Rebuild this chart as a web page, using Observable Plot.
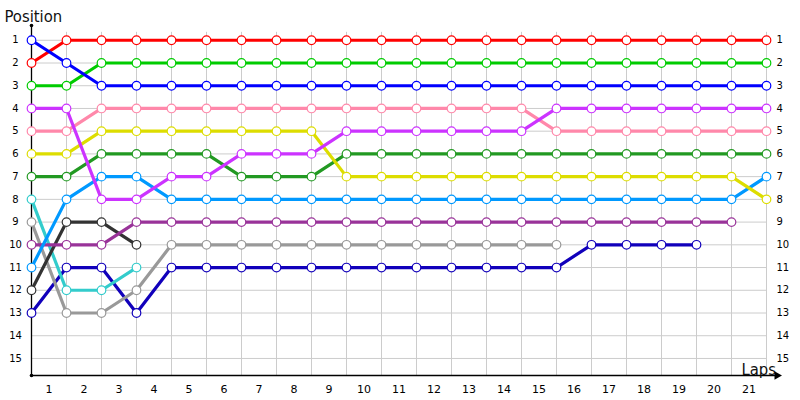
<!DOCTYPE html>
<html><head><meta charset="utf-8">
<script src="https://cdn.jsdelivr.net/npm/d3@7"></script>
<script src="https://cdn.jsdelivr.net/npm/@observablehq/plot@0.6"></script>
<style>body{margin:0;background:#fff} #chart{width:800px;height:400px}</style>
</head><body><div id="chart"></div>
<script>
const laps = [0,1,2,3,4,5,6,7,8,9,10,11,12,13,14,15,16,17,18,19,20,21];
const yTicks = [1,2,3,4,5,6,7,8,9,10,11,12,13,14,15];
const xTickLabels = ["1","2","3","4","5","6","7","8","9","10","11","12","13","14","15","16","17","18","19","20","21"];

const names = ["navy","lightgray","cyan","darkgray","purple","lightblue","darkgreen","yellow","pink","magenta","green","red","blue"];
const colors = ["#1100bb","#999999","#33cccc","#333333","#993399","#0099ff","#229922","#dddd00","#ff88aa","#cc33ff","#00cc00","#ff0000","#0000ff"];

const red       = [2,1,1,1,1,1,1,1,1,1,1,1,1,1,1,1,1,1,1,1,1,1];
const blue      = [1,2,3,3,3,3,3,3,3,3,3,3,3,3,3,3,3,3,3,3,3,3];
const green     = [3,3,2,2,2,2,2,2,2,2,2,2,2,2,2,2,2,2,2,2,2,2];
const magenta   = [4,4,8,8,7,7,6,6,6,5,5,5,5,5,5,4,4,4,4,4,4,4];
const pink      = [5,5,4,4,4,4,4,4,4,4,4,4,4,4,4,5,5,5,5,5,5,5];
const yellow    = [6,6,5,5,5,5,5,5,5,7,7,7,7,7,7,7,7,7,7,7,7,8];
const darkgreen = [7,7,6,6,6,6,7,7,7,6,6,6,6,6,6,6,6,6,6,6,6,6];
const lightblue = [11,8,7,7,8,8,8,8,8,8,8,8,8,8,8,8,8,8,8,8,8,7];
const purple    = [10,10,10,9,9,9,9,9,9,9,9,9,9,9,9,9,9,9,9,9,9];
const darkgray  = [12,9,9,10];
const cyan      = [8,12,12,11];
const lightgray = [9,13,13,12,10,10,10,10,10,10,10,10,10,10,10,10];
const navy      = [13,11,11,13,11,11,11,11,11,11,11,11,11,11,11,11,10,10,10,10];

const seriesValues = [navy,lightgray,cyan,darkgray,purple,lightblue,darkgreen,yellow,pink,magenta,green,red,blue];

const rows = [];
seriesValues.forEach((vals, s) => vals.forEach((v, i) => rows.push({name: names[s], color: colors[s], lap: laps[i], pos: v})));

const font = "DejaVu Sans, Verdana, sans-serif";
const titleFont = "'Liberation Sans Narrow', 'DejaVu Sans Condensed', Roboto, sans-serif";
const yTop = 0.35, yBottom = 15.75;

const chart = Plot.plot({
  width: 800, height: 400,
  marginLeft: 31, marginRight: 34, marginTop: 25, marginBottom: 25,
  style: {fontFamily: font, background: "#fff", overflow: "visible"},
  x: {domain: [0, 21], axis: null},
  y: {domain: [yTop, yBottom], reverse: true, axis: null},
  color: {type: "identity"},
  marks: [
    Plot.ruleX(laps, {x: d => d, y1: 0.65, y2: yBottom, stroke: "#cccccc", strokeWidth: 1}),
    Plot.ruleY(yTicks, {y: d => d, x1: 0, x2: 21, stroke: "#cccccc", strokeWidth: 1}),
    Plot.ruleX([0], {y1: yTop, y2: yBottom, stroke: "#000", strokeWidth: 1.3}),
    Plot.ruleY([yBottom], {x1: 0, x2: 21.3, stroke: "#000", strokeWidth: 1.3}),
    Plot.dot([21.3], {x: d => d, y: yBottom, symbol: "triangle", r: 3.2, fill: "#000", stroke: "none", rotate: 90}),
    Plot.dot([yTop, yBottom], {x: 0, y: d => d, r: 1.8, fill: "#000", stroke: "none"}),
    Plot.line(rows, {x: "lap", y: "pos", z: "name", stroke: "color", strokeWidth: 3.2}),
    Plot.dot(rows, {x: "lap", y: "pos", r: 4.3, fill: "white", stroke: "color", strokeWidth: 1.2}),
    Plot.text(yTicks, {x: 0, y: d => d, dx: -16, text: d => String(d), textAnchor: "middle", fontSize: 10, fill: "#000"}),
    Plot.text(yTicks, {x: 21, y: d => d, dx: 10, text: d => String(d), textAnchor: "start", fontSize: 10, fill: "#000"}),
    Plot.text(xTickLabels, {x: (d, i) => laps[i] + 0.5, y: yBottom, dy: 14, text: d => d, textAnchor: "middle", fontSize: 11, fill: "#000"}),
    Plot.text(["Position"], {frameAnchor: "top-left", dx: -27, dy: -4, lineAnchor: "bottom", textAnchor: "start", fontSize: 16.5, fontFamily: titleFont, fill: "#111", text: d => d}),
    Plot.text(["Laps"], {x: 21.27, y: yBottom, dy: -1, lineAnchor: "bottom", textAnchor: "end", fontSize: 16.5, fontFamily: titleFont, fill: "#111", text: d => d})
  ]
});
document.getElementById("chart").appendChild(chart);
</script>
</body></html>
